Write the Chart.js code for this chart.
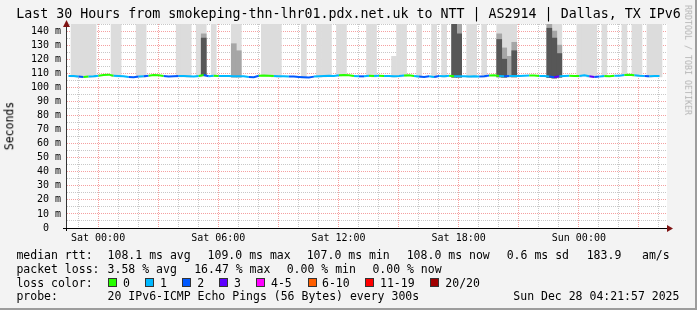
<!DOCTYPE html>
<html>
<head>
<meta charset="utf-8">
<script src="https://cdn.jsdelivr.net/npm/chart.js@4/dist/chart.umd.min.js"></script>
<style>
  html, body { margin: 0; padding: 0; }
  body {
    width: 697px; height: 310px; position: relative; overflow: hidden;
    background: #f3f3f3; font-family: "DejaVu Sans Mono", monospace; color: #000;
  }
  #frame { position: absolute; left: 0; top: 0; width: 695px; height: 308px;
    border-right: 2px solid #9c9c9c; border-bottom: 2px solid #9c9c9c; }
  canvas { position: absolute; left: 0; top: 0; }
  .t { position: absolute; white-space: pre; font-size: 11.5px; line-height: 14px; }
  #title { position: absolute; left: 0; width: 697px; top: 7px; text-align: center;
    font-size: 13.3px; line-height: 1; white-space: pre; }
  #ylab { position: absolute; left: 9.5px; top: 126px; font-size: 11.5px; line-height: 1;
    transform: translate(-50%, -50%) rotate(-90deg); white-space: pre; }
  #rrd { position: absolute; left: 687.5px; top: 60px; font-size: 8.3px; line-height: 1; color: #b4b4b4;
    transform: translate(-50%, -50%) rotate(90deg); white-space: pre; }
  .sw { position: absolute; width: 7px; height: 7px; border: 1px solid #333; top: 278px; }
</style>
</head>
<body>
<div id="frame"></div>
<canvas id="chart" width="697" height="310"></canvas>
<div id="title">Last 30 Hours from smokeping-thn-lhr01.pdx.net.uk to NTT | AS2914 | Dallas, TX IPv6</div>
<div id="ylab">Seconds</div>
<div id="rrd">RRDTOOL / TOBI OETIKER</div>
<div id="legend"></div>

<script>
// time axis: hours relative to Sat 00:00, one bin = 15 min
const startHour = -1.6;
const endHour = 28.4;
const binHours = 0.25;

const xTickHours = [0, 6, 12, 18, 24];
const xTickLabels = ["Sat 00:00", "Sat 06:00", "Sat 12:00", "Sat 18:00", "Sun 00:00"];
const yTicks = [0, 5, 10, 15, 20, 25, 30, 35, 40, 45, 50, 55, 60, 65, 70, 75, 80, 85, 90, 95, 100, 105, 110, 115, 120, 125, 130, 135, 140, 145];

// median rtt (ms) per bin
const median = [
  108.0,108.0,107.6,107.4,107.6,107.8,108.2,108.8,109.0,108.2,
  108.0,107.8,107.4,107.2,107.6,107.8,108.2,108.8,108.6,108.0,
  107.6,107.8,108.0,108.0,107.8,107.6,108.0,108.8,107.8,108.2,
  108.0,108.0,108.0,107.8,107.8,107.8,107.4,107.2,108.2,108.4,
  108.2,108.0,107.8,107.8,107.6,107.6,107.4,107.2,107.0,107.6,
  107.8,108.0,108.2,108.0,108.6,108.8,108.6,108.0,107.8,107.8,
  108.2,108.0,108.2,108.0,108.0,107.8,108.0,108.4,108.6,108.0,
  107.6,107.4,107.8,107.4,108.0,107.8,108.2,107.8,107.8,107.8,
  107.6,107.8,107.6,107.8,108.4,108.6,108.0,107.8,108.0,108.0,
  108.0,108.2,108.4,108.4,108.0,108.0,107.6,107.2,107.8,108.0,
  108.2,108.0,108.0,108.6,107.8,107.4,107.6,108.0,107.8,108.2,
  108.2,108.8,109.0,108.6,108.2,108.0,107.8,108.0,108.0
];

// lost pings (of 20) per bin
const loss = [
  1,1,2,0,1,1,0,0,0,1,
  1,1,2,2,1,2,0,0,0,2,
  2,2,1,1,1,1,0,2,1,0,
  1,1,1,1,1,1,2,2,0,0,
  0,1,1,1,2,2,2,2,2,1,
  1,1,1,1,0,0,0,1,2,1,
  0,1,0,1,1,1,1,0,0,1,
  2,2,1,2,1,1,0,1,1,1,
  1,1,2,2,0,0,1,2,1,1,
  1,1,0,0,1,1,2,3,1,1,
  0,0,1,1,3,2,1,0,0,1,
  1,0,0,1,1,2,1,1,1
];

// smoke: highest ping per bin (light), 145 = off the top
const T = 145;
const smokeLight = [
  null,T,T,T,T,T,null,null,null,T,
  T,null,null,null,T,T,null,null,null,null,
  null,null,T,T,T,null,T,T,null,T,
  null,null,null,T,T,null,null,null,null,T,
  T,T,T,null,null,null,null,T,null,null,
  T,T,T,null,T,T,null,null,null,null,
  T,T,null,null,null,122,T,T,null,null,
  T,null,null,T,null,T,null,T,T,null,
  T,T,null,T,null,null,T,T,T,T,
  null,null,null,null,null,null,T,T,T,null,
  null,null,T,T,T,T,null,T,null,null,
  null,T,null,T,T,null,T,T,T
];
const smokeMid = { 27: 138, 33: 131, 34: 126, 77: 145, 78: 145, 86: 138, 87: 128, 88: 122, 89: 132, 96: 145, 97: 140, 98: 130 };
const smokeDark = { 27: 135, 77: 145, 78: 138, 86: 134, 87: 120, 89: 126, 96: 142, 97: 135, 98: 124 };

const lossLabels = ["0", "1", "2", "3", "4-5", "6-10", "11-19", "20/20"];
const lossColors = ["#26ff00", "#00b8ff", "#0059ff", "#5e00ff", "#ff00ff", "#ff5e00", "#ff0000", "#a10000"];

// legend text
const legendRows = [
  [[16.4, "median rtt:"], [107.6, "108.1 ms avg"], [207.6, "109.0 ms max"], [306.7, "107.0 ms min"],
   [406.7, "108.0 ms now"], [506.7, "0.6 ms sd"], [586.7, "183.9"], [642, "am/s"]],
  [[16.4, "packet loss:"], [107.6, "3.58 % avg"], [194.2, "16.47 % max"], [286.7, "0.00 % min"], [372.4, "0.00 % now"]],
  [[16.4, "loss color:"]],
  [[16.4, "probe:"], [107.6, "20 IPv6-ICMP Echo Pings (56 Bytes) every 300s"], [513.3, "Sun Dec 28 04:21:57 2025"]]
];
const legendTops = [248, 261.7, 275.5, 289.3];
const swatchX = [108, 145.3, 182.2, 219, 256.4, 307.6, 365.3, 430.2];
const swatchLabelX = [123, 160, 197.3, 234, 271, 322, 380, 445.3];

const leg = document.getElementById("legend");
function addText(x, y, s) {
  const d = document.createElement("div");
  d.className = "t";
  d.style.left = x + "px";
  d.style.top = y + "px";
  d.textContent = s;
  leg.appendChild(d);
}
legendRows.forEach((row, r) => row.forEach(([x, s]) => addText(x, legendTops[r], s)));
lossLabels.forEach((lab, i) => {
  const sw = document.createElement("div");
  sw.className = "sw";
  sw.style.left = swatchX[i] + "px";
  sw.style.background = lossColors[i];
  leg.appendChild(sw);
  addText(swatchLabelX[i], legendTops[2], lab);
});

const binX = median.map((_, i) => startHour + (i + 0.5) * binHours);
const linePts = median.map((v, i) => ({ x: binX[i], y: v }));
const lightPts = [], midPts = [], darkPts = [];
median.forEach((v, i) => {
  if (smokeLight[i] != null) lightPts.push({ x: binX[i], y: [v - 0.6, smokeLight[i]] });
  if (smokeMid[i] != null) midPts.push({ x: binX[i], y: [v - 0.6, smokeMid[i]] });
  if (smokeDark[i] != null) darkPts.push({ x: binX[i], y: [v - 0.6, smokeDark[i]] });
});

const hourTicks = [];
for (let h = -1; h <= 28; h++) hourTicks.push(h);

const plotBg = {
  id: "plotBg",
  beforeDraw(chart) {
    const { ctx, chartArea: a } = chart;
    ctx.save();
    ctx.fillStyle = "#fff";
    ctx.fillRect(a.left, a.top, a.right - a.left, a.bottom - a.top);
    ctx.restore();
  }
};

const axisArrows = {
  id: "axisArrows",
  afterDraw(chart) {
    const { ctx, chartArea: a } = chart;
    ctx.save();
    ctx.strokeStyle = "#000";
    ctx.lineWidth = 1;
    ctx.beginPath();
    ctx.moveTo(a.left - 3, a.bottom + 0.5);
    ctx.lineTo(a.left, a.bottom + 0.5);
    ctx.moveTo(a.left + 0.5, a.bottom);
    ctx.lineTo(a.left + 0.5, a.bottom + 3);
    ctx.stroke();
    ctx.fillStyle = "#7f1414";
    ctx.beginPath();
    ctx.moveTo(a.right, a.bottom - 3);
    ctx.lineTo(a.right + 6, a.bottom + 0.5);
    ctx.lineTo(a.right, a.bottom + 4);
    ctx.closePath();
    ctx.fill();
    ctx.beginPath();
    ctx.moveTo(a.left - 3, a.top + 3);
    ctx.lineTo(a.left + 0.5, a.top - 4);
    ctx.lineTo(a.left + 4, a.top + 3);
    ctx.closePath();
    ctx.fill();
    ctx.restore();
  }
};

const monoTick = { family: "DejaVu Sans Mono", size: 10 };
const barOpts = { type: "bar", grouped: false, barPercentage: 1, categoryPercentage: 1, borderWidth: 0 };
const majorGrid = "#f5a0a0";
const minorGrid = "#c8c8c8";

new Chart(document.getElementById("chart").getContext("2d"), {
  data: {
    datasets: [
      {
        type: "line",
        data: linePts,
        order: 0,
        borderWidth: 2,
        pointRadius: 0,
        tension: 0,
        borderColor: lossColors[1],
        segment: { borderColor: ctx => lossColors[loss[ctx.p0DataIndex]] }
      },
      Object.assign({ data: darkPts, order: 1, backgroundColor: "#575757" }, barOpts),
      Object.assign({ data: midPts, order: 2, backgroundColor: "#a6a6a6" }, barOpts),
      Object.assign({ data: lightPts, order: 3, backgroundColor: "#dcdcdc" }, barOpts)
    ]
  },
  options: {
    responsive: false,
    animation: false,
    layout: { padding: { top: 24, right: 30, bottom: 0, left: 0 } },
    plugins: { legend: { display: false }, tooltip: { enabled: false } },
    scales: {
      x: {
        type: "linear",
        offset: false,
        min: startHour,
        max: endHour,
        afterBuildTicks: s => { s.ticks = hourTicks.map(v => ({ value: v })); },
        afterFit: s => { s.height = 82; },
        ticks: {
          autoSkip: false,
          maxRotation: 0,
          padding: 4,
          color: "#000",
          font: monoTick,
          callback: v => { const k = xTickHours.indexOf(v); return k >= 0 ? xTickLabels[k] : ""; }
        },
        grid: {
          offset: false,
          drawTicks: false,
          color: c => (c.tick && c.tick.value % 3 === 0) ? majorGrid : minorGrid
        },
        border: { color: "#000", width: 1, dash: [1, 1] }
      },
      y: {
        min: 0,
        max: 145,
        afterBuildTicks: s => { s.ticks = yTicks.map(v => ({ value: v })); },
        afterFit: s => { s.width = 66; },
        ticks: {
          autoSkip: false,
          padding: 5,
          color: "#000",
          font: monoTick,
          callback: v => v % 10 !== 0 ? "" : (v === 0 ? "0  " : v + " m")
        },
        grid: {
          drawTicks: false,
          color: c => (c.tick && c.tick.value % 10 === 0) ? majorGrid : minorGrid
        },
        border: { color: "#333", width: 1, dash: [1, 1] }
      }
    }
  },
  plugins: [plotBg, axisArrows]
});
</script>
</body>
</html>
